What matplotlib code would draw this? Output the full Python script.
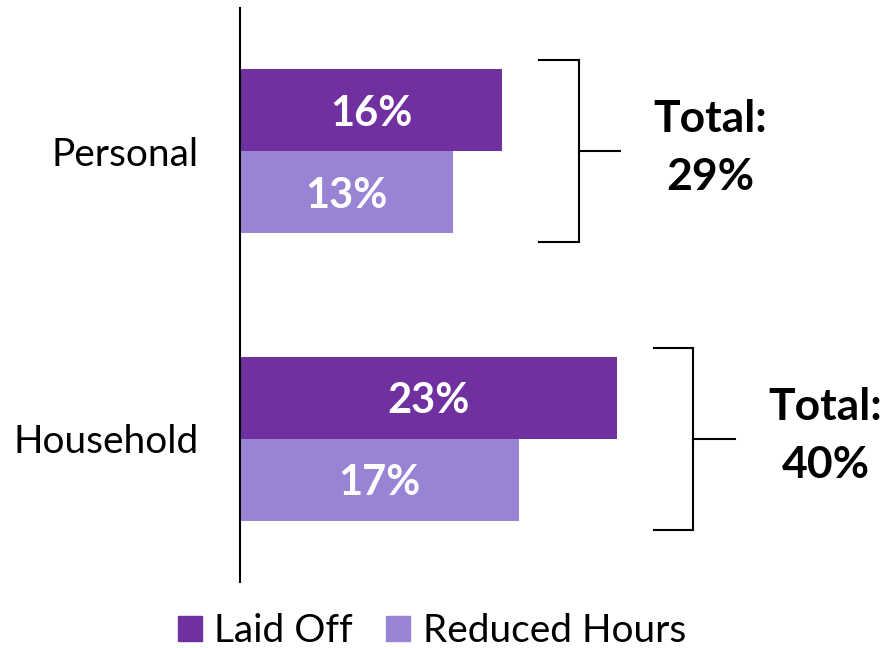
import matplotlib.pyplot as plt
from matplotlib.patches import Patch

plt.rcParams['font.family'] = ['Lato', 'DejaVu Sans']

categories = ['Household', 'Personal']
laid_off = [23, 16]
reduced_hours = [17, 13]
totals = [40, 29]
series_names = ['Laid Off', 'Reduced Hours']
dark = '#7030A0'
light = '#9983D5'

fig = plt.figure(figsize=(8.84, 6.48), dpi=100)
ax = fig.add_axes([240/884, 1-582/648, 1-240/884, (582-8)/648])

h = 0.285
ys = list(range(len(categories)))
ax.barh([y + h/2 for y in ys], laid_off, height=h, color=dark)
ax.barh([y - h/2 for y in ys], reduced_hours, height=h, color=light)

for y, a, b, t in zip(ys, laid_off, reduced_hours, totals):
    ax.text(a/2, y + h/2, f'{a}%', ha='center', va='center_baseline', color='white',
            fontsize=30, fontweight='bold')
    ax.text(b/2, y - h/2, f'{b}%', ha='center', va='center_baseline', color='white',
            fontsize=30, fontweight='bold')
    # bracket
    left = max(a, b) + 2.25
    mid = left + 2.4
    right = mid + 2.55
    top, bot = y + 0.315, y - 0.315
    ax.plot([left, mid, mid, left], [top, top, bot, bot], color='black', lw=1.5,
            solid_joinstyle='miter', clip_on=False)
    ax.plot([mid, right], [y, y], color='black', lw=1.5, clip_on=False)
    ax.text(right + 5.5, y + 0.01, f'Total:\n{t}%', ha='center', va='center',
            fontsize=32, fontweight='bold', linespacing=1.55)

ax.set_xlim(0, 644/16.4)
ax.set_ylim(-0.497, 1.497)
ax.set_yticks(ys)
ax.set_yticklabels(categories, fontsize=28)
ax.tick_params(axis='y', length=0, pad=30)
ax.set_xticks([])
for s in ['top', 'right', 'bottom']:
    ax.spines[s].set_visible(False)
ax.spines['left'].set_linewidth(1.5)

handles = [Patch(color=dark), Patch(color=light)]
fig.legend(handles, series_names, loc='center', bbox_to_anchor=(432/884, 1-631/648),
           ncol=2, frameon=False, fontsize=28, handlelength=0.62, handleheight=0.62,
           handletextpad=0.33, columnspacing=0.85)

fig.savefig('out.png', dpi=100)
